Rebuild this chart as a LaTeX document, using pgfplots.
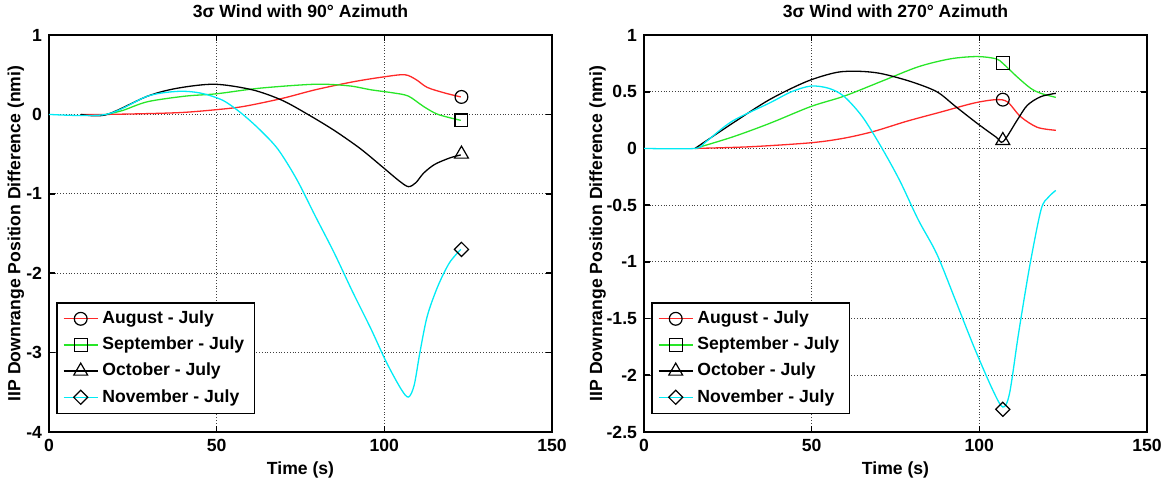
\documentclass[border=0pt]{standalone}
\usepackage{fontspec}
\setmainfont{Liberation Sans}
\usepackage{pgfplots}
\pgfplotsset{compat=1.18}

\newcommand{\lab}{\bfseries\fontsize{8.8}{10.5}\selectfont}

\definecolor{mred}{RGB}{255,40,40}
\definecolor{mgreen}{RGB}{40,230,40}
\definecolor{mcyan}{RGB}{0,235,245}

\pgfplotsset{
  windaxis/.style={
    scale only axis,
    width=251.5pt, height=198.5pt,
    xmin=0, xmax=150, xtick={0,50,100,150},
    grid=major,
    grid style={densely dotted, black!75, line width=0.45pt},
    axis line style={line width=1.1pt},
    tick align=inside,
    major tick length=3pt,
    tick style={black, line width=0.8pt},
    ticklabel style={font=\lab},
    /pgf/number format/assume math mode=true,
    label style={font=\lab},
    title style={font=\lab, yshift=-1pt},
    xlabel={Time (s)},
    ylabel={IIP Downrange Position Difference (nmi)},
    xlabel style={yshift=2pt},
    legend style={at={(0.0147,0.046)}, anchor=south west, font=\lab,
      draw=black, line width=0.6pt, row sep=1.2pt},
    legend cell align=left,
  },
  ylab at/.style={every axis y label/.style={
    at={(axis description cs:#1,0.5)}, rotate=90, anchor=center, font=\lab}},
  curve/.style={line width=0.65pt, smooth, forget plot},
  mk/.style={only marks, forget plot, mark size=3.2pt,
    mark options={solid, draw=black, fill=none, line width=0.6pt}},
  leg/.style={line width=0.65pt, mark size=3.2pt,
    mark options={solid, draw=black, fill=none, line width=0.6pt}},
  tri/.style={mark=triangle, mark size=4pt},
  dia/.style={mark=square, mark size=2.5pt,
    mark options={solid, draw=black, fill=none, line width=0.6pt, rotate=45}},
}

\begin{document}
\begin{tikzpicture}
\path[use as bounding box] (-24.5pt,-25pt) rectangle (558.5pt,216pt);

% ---------------- 90 degree azimuth ----------------
\begin{axis}[windaxis, at={(0pt,0pt)}, anchor=south west,
  ymin=-4, ymax=1, ytick={-4,-3,-2,-1,0,1}, ylab at=-0.066,
  title={3σ Wind with 90° Azimuth}]
\addplot[curve, mred] coordinates {
 (9.5,0) (17,0) (29.4,0.01) (40,0.025) (50,0.06) (58,0.1) (69.4,0.2)
 (79.4,0.31) (90.6,0.41) (99.4,0.47) (106,0.5) (109.4,0.44) (112.8,0.34)
 (118,0.27) (122.8,0.22)};
\addplot[curve, mgreen] coordinates {
 (17,0) (22,0.05) (29.4,0.16) (40.6,0.23) (50,0.26) (62.8,0.33) (79.4,0.38)
 (89.4,0.36) (96,0.31) (102.8,0.27) (107.2,0.23) (111.7,0.1) (116,0.0)
 (122.8,-0.075)};
\addplot[curve, black] coordinates {
 (9.5,0) (17,-0.005) (29.4,0.23) (38.3,0.33) (49.4,0.38) (60.6,0.31)
 (69.4,0.18) (77.2,0) (85,-0.2) (92.8,-0.43) (99.4,-0.66) (104.5,-0.84)
 (107.2,-0.91) (109.4,-0.86) (111.7,-0.74) (115,-0.63) (119.4,-0.55)
 (122.8,-0.51)};
\addplot[curve, mcyan] coordinates {
 (0,0) (17,0) (29.4,0.23) (38.3,0.29) (45,0.27) (51.7,0.18) (57.2,0.02)
 (62.8,-0.19) (68.3,-0.44) (73.9,-0.82) (79.4,-1.28) (85,-1.74) (90.6,-2.24)
 (96,-2.70) (100.6,-3.12) (105,-3.46) (107.2,-3.56) (108.9,-3.41)
 (110.6,-3.0) (112.8,-2.54) (116,-2.16) (119.4,-1.87) (122.8,-1.70)};
\addplot[mk, mark=o] coordinates {(123,0.22)};
\addplot[mk, mark=square] coordinates {(123,-0.075)};
\addplot[mk, tri] coordinates {(123,-0.5)};
\addplot[mk, dia] coordinates {(123,-1.7)};
\addlegendimage{leg, mred, mark=o}
\addlegendentry{August - July}
\addlegendimage{leg, mgreen, mark=square}
\addlegendentry{September - July}
\addlegendimage{leg, black, tri}
\addlegendentry{October - July}
\addlegendimage{leg, mcyan, dia}
\addlegendentry{November - July}
\end{axis}

% ---------------- 270 degree azimuth ----------------
\begin{axis}[windaxis, at={(297.5pt,0pt)}, anchor=south west,
  ymin=-2.5, ymax=1, ytick={-2.5,-2,-1.5,-1,-0.5,0,0.5,1}, ylab at=-0.092,
  title={3σ Wind with 270° Azimuth}]
\addplot[curve, mred] coordinates {
 (15.2,0) (31.8,0.015) (49.8,0.05) (59.6,0.09) (68.5,0.15) (78.4,0.24)
 (88.4,0.32) (98.4,0.40) (105,0.43) (108.4,0.41) (112.3,0.28) (117.3,0.186)
 (122.8,0.16)};
\addplot[curve, mgreen] coordinates {
 (15.2,0) (26.3,0.10) (37.4,0.22) (49.8,0.37) (59.6,0.46) (70.7,0.59)
 (81.8,0.72) (91.4,0.79) (99.4,0.81) (105,0.79) (107,0.75) (111.3,0.63)
 (115.3,0.53) (118.3,0.486) (122.8,0.45)};
\addplot[curve, black] coordinates {
 (15.2,0) (26.3,0.22) (37.4,0.43) (48.5,0.59) (57.4,0.67) (64,0.68)
 (70.7,0.66) (79.5,0.59) (87.3,0.5) (92.9,0.37) (99.4,0.22) (105,0.10)
 (107.1,0.06) (111.3,0.25) (114.3,0.38) (118.3,0.456) (122.8,0.486)};
\addplot[curve, mcyan] coordinates {
 (0,0) (15.2,0) (18.5,0.06) (26.3,0.24) (37.4,0.40) (44,0.5) (49.8,0.55)
 (55.1,0.53) (59.6,0.46) (65.1,0.28) (70.7,0.015) (76.2,-0.28) (81.8,-0.63)
 (87.3,-0.93) (92.9,-1.34) (98.4,-1.75) (104,-2.13) (107,-2.28)
 (109,-2.16) (111.7,-1.63) (115,-1.04) (118.4,-0.54) (120.6,-0.43)
 (122.8,-0.37)};
\addplot[mk, mark=o] coordinates {(107,0.43)};
\addplot[mk, mark=square] coordinates {(107,0.755)};
\addplot[mk, tri] coordinates {(107,0.07)};
\addplot[mk, dia] coordinates {(107,-2.3)};
\addlegendimage{leg, mred, mark=o}
\addlegendentry{August - July}
\addlegendimage{leg, mgreen, mark=square}
\addlegendentry{September - July}
\addlegendimage{leg, black, tri}
\addlegendentry{October - July}
\addlegendimage{leg, mcyan, dia}
\addlegendentry{November - July}
\end{axis}
\end{tikzpicture}
\end{document}
